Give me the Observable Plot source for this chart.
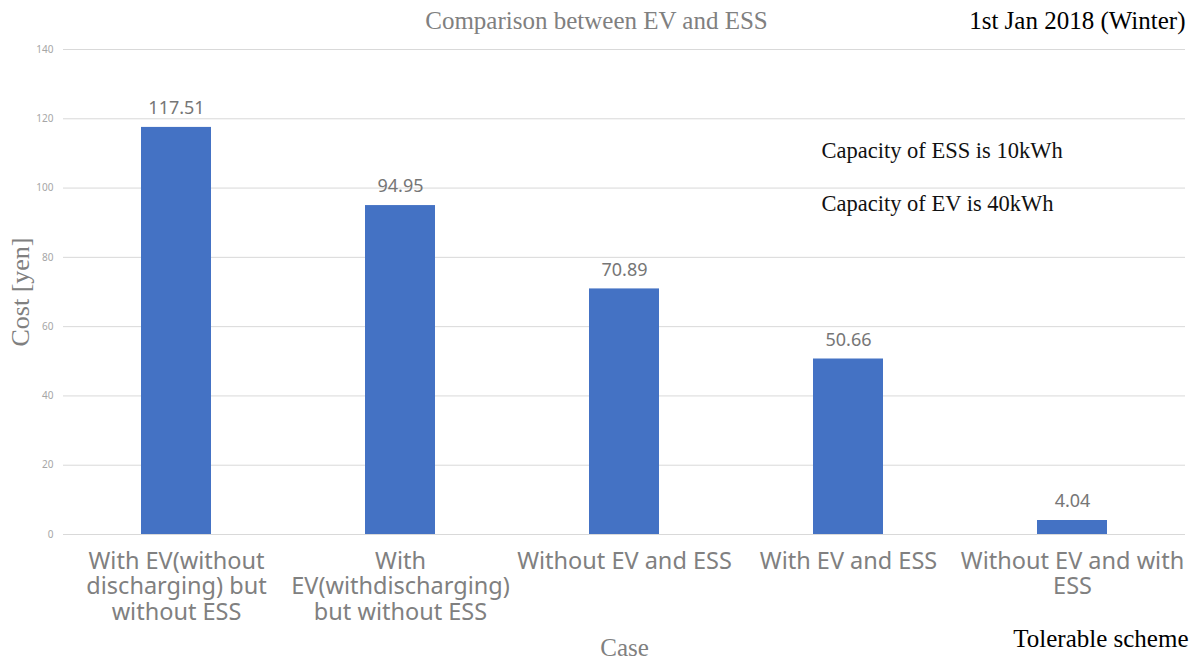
<!DOCTYPE html>
<html>
<head>
<meta charset="utf-8">
<script src="https://cdn.jsdelivr.net/npm/d3@7"></script>
<script src="https://cdn.jsdelivr.net/npm/@observablehq/plot@0.6"></script>
<style>
  html, body { margin: 0; padding: 0; background: #fff; }
  #chart svg { display: block; }
</style>
</head>
<body>
<div id="chart"></div>
<script>
// Daily cost per case, 1st Jan 2018 (winter)
const cases = [
  "With EV(without\ndischarging) but\nwithout ESS",
  "With\nEV(withdischarging)\nbut without ESS",
  "Without EV and ESS",
  "With EV and ESS",
  "Without EV and with\nESS"
];
const costs = [117.51, 94.95, 70.89, 50.66, 4.04];
const yTicks = [0, 20, 40, 60, 80, 100, 120, 140];

const data = cases.map((c, i) => ({case: c, cost: costs[i]}));

const serif = "'Liberation Serif', 'Times New Roman', serif";
const sans = "'Noto Sans', 'DejaVu Sans', sans-serif";

// Free-standing note anchored to the plot frame
const note = (label, opts) => Plot.text([label], {
  textAnchor: "middle", lineAnchor: "middle", fontFamily: serif, ...opts
});

const chart = Plot.plot({
  width: 1194,
  height: 662,
  marginLeft: 63,
  marginRight: 9,
  marginTop: 49,
  marginBottom: 128,
  style: {background: "#fff", fontFamily: sans},
  x: {domain: cases, paddingInner: 0.6875, paddingOuter: 0.34375},
  y: {domain: [0, 140]},
  marks: [
    Plot.gridY(yTicks, {stroke: "#d9d9d9", strokeOpacity: 1, strokeWidth: 1}),
    Plot.axisY(yTicks, {
      tickSize: 0, tickPadding: 10, fontSize: 10, fill: "#a6a6a6", label: null
    }),
    Plot.axisX({
      tickSize: 0, tickPadding: 16, fontSize: 23.5, fill: "#808080",
      lineHeight: 1.09, label: null, textAnchor: "middle"
    }),
    Plot.barY(data, {x: "case", y: "cost", fill: "#4472c4"}),
    Plot.text(data, {
      x: "case", y: "cost", text: d => d.cost.toFixed(2),
      dy: -19, fontSize: 18, fill: "#767676"
    }),
    // Titles and notes
    note("Comparison between EV and ESS", {
      frameAnchor: "top", dx: -28, dy: -29, fontSize: 25, fill: "#808080"
    }),
    note("1st Jan 2018 (Winter)", {
      frameAnchor: "top-right", dy: -29, textAnchor: "end", fontSize: 25, fill: "#000"
    }),
    note("Capacity of ESS is 10kWh", {
      frameAnchor: "top-left", dx: 758, dy: 101, textAnchor: "start",
      fontSize: 22.5, fill: "#111"
    }),
    note("Capacity of EV is 40kWh", {
      frameAnchor: "top-left", dx: 758, dy: 154, textAnchor: "start",
      fontSize: 22.5, fill: "#111"
    }),
    note("Cost [yen]", {
      frameAnchor: "left", dx: -43, rotate: -90, fontSize: 26, fill: "#808080"
    }),
    note("Case", {
      frameAnchor: "bottom", dy: 113, fontSize: 25, fill: "#808080"
    }),
    note("Tolerable scheme", {
      frameAnchor: "bottom-right", dx: 3, dy: 104, textAnchor: "end",
      fontSize: 25, fill: "#000"
    })
  ]
});

document.getElementById("chart").append(chart);
</script>
</body>
</html>
